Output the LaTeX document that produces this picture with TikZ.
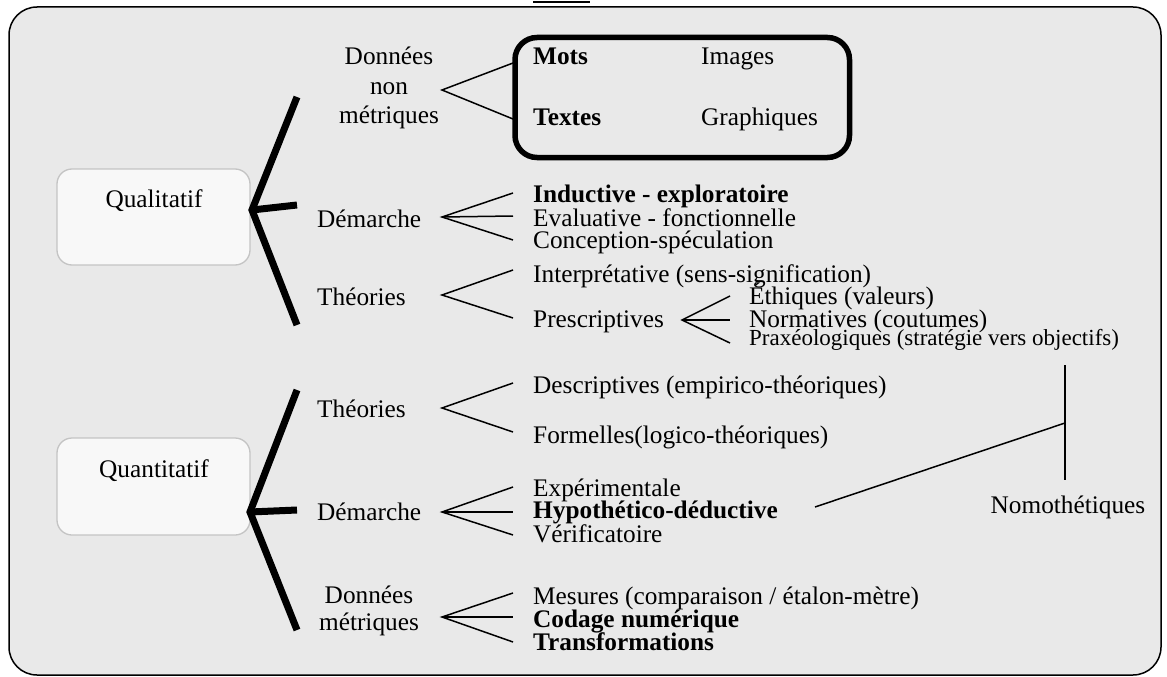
\documentclass[tikz,border=0pt]{standalone}
\usepackage{fontspec}
\setmainfont{Liberation Serif}
\definecolor{bggray}{HTML}{E9E9E9}
\definecolor{boxfill}{HTML}{F8F8F8}
\definecolor{boxgray}{HTML}{C4C4C4}
\begin{document}
\begin{tikzpicture}[x=1pt,y=-1pt,
  txt/.style={font=\fontsize{25.3}{27}\selectfont, inner sep=0pt, anchor=base west},
  ctxt/.style={font=\fontsize{25.3}{27}\selectfont, inner sep=0pt, anchor=base},
  btxt/.style={font=\fontsize{25.3}{27}\selectfont\bfseries, inner sep=0pt, anchor=base west},
  stxt/.style={font=\fontsize{23}{25}\selectfont, inner sep=0pt, anchor=base west},
  brace/.style={line width=7pt},
  fork/.style={line width=1.5pt},
  catbox/.style={draw=boxgray, fill=boxfill, line width=1.3pt, rounded corners=15pt, minimum width=193pt, inner sep=0pt}
]
\useasboundingbox (0,0) rectangle (1167,677);
% outer frame
\draw[fill=bggray, line width=1.5pt, rounded corners=28pt] (9,7) rectangle (1161,675);
\coordinate (frA) at (533,2); \coordinate (frB) at (590,2);
\draw[line width=1.2pt] (frA) -- (frB);

% category boxes
\node[catbox, minimum height=96pt] (qualbox) at (153.5,217) {};
\node[ctxt] (qualtxt) at (154,207) {Qualitatif};
\node[catbox, minimum height=97pt] (quantbox) at (153.5,486.5) {};
\node[ctxt] (quanttxt) at (154,477) {Quantitatif};

% braces
\coordinate (qv) at (252,210);
\coordinate (qt) at (297,97); \coordinate (qm) at (297,205); \coordinate (qb) at (297,325);
\draw[brace] (qt) -- (qv) -- (qb);
\draw[brace] (qv) -- (qm);
\coordinate (nv) at (250,512);
\coordinate (nt) at (297,390); \coordinate (nm) at (297,510); \coordinate (nb) at (297,630);
\draw[brace] (nt) -- (nv) -- (nb);
\draw[brace] (nv) -- (nm);

% ---------------- Qualitatif branches
\node[ctxt] (dq1) at (389,65) {Données};
\node[ctxt] (dq2) at (389,94) {non};
\node[ctxt] (dq3) at (389,123) {métriques};
\node[draw, line width=5.5pt, rounded corners=22pt, minimum width=334.5pt, minimum height=120pt, inner sep=0pt] (imgbox) at (682.25,97.5) {};
\node[btxt] (mots) at (533,65) {Mots};
\node[txt] (images) at (701,65) {Images};
\node[btxt] (textes) at (533,125) {Textes};
\node[txt] (graph) at (701,125) {Graphiques};
\coordinate (fa1) at (442,90);
\coordinate (fa1a) at (513,63); \coordinate (fa1b) at (513,119);
\draw[fork] (fa1a) -- (fa1) -- (fa1b);

\node[txt] (demq) at (317,227) {Démarche};
\coordinate (fa2) at (442,217);
\coordinate (fa2a) at (513,193); \coordinate (fa2b) at (513,216); \coordinate (fa2c) at (513,240);
\draw[fork] (fa2a) -- (fa2) -- (fa2c); \draw[fork] (fa2) -- (fa2b);
\node[btxt] (induc) at (533,202) {Inductive - exploratoire};
\node[txt] (evalu) at (533,226) {Evaluative - fonctionnelle};
\node[txt] (conce) at (533,248) {Conception-spéculation};

\node[txt] (theoq) at (317,305) {Théories};
\coordinate (fa3) at (442,295);
\coordinate (fa3a) at (513,270); \coordinate (fa3b) at (513,318);
\draw[fork] (fa3a) -- (fa3) -- (fa3b);
\node[txt] (inter) at (533,282) {Interprétative (sens-signification)};
\node[txt] (presc) at (533,327) {Prescriptives};
\coordinate (fa4) at (682,320);
\coordinate (fa4a) at (730,296); \coordinate (fa4b) at (730,320); \coordinate (fa4c) at (730,343);
\draw[fork] (fa4a) -- (fa4) -- (fa4c); \draw[fork] (fa4) -- (fa4b);
\node[txt] (ethiq) at (749,304) {Éthiques (valeurs)};
\node[txt] (norma) at (749,327) {Normatives (coutumes)};
\node[stxt] (praxe) at (749,345) {Praxéologiques (stratégie vers objectifs)};

% ---------------- Quantitatif branches
\node[txt] (theon) at (317,417) {Théories};
\coordinate (fb1) at (442,408);
\coordinate (fb1a) at (513,383); \coordinate (fb1b) at (513,432);
\draw[fork] (fb1a) -- (fb1) -- (fb1b);
\node[txt] (descr) at (533,393) {Descriptives (empirico-théoriques)};
\node[txt] (forme) at (533,443) {Formelles(logico-théoriques)};

\node[txt] (demn) at (317,520) {Démarche};
\coordinate (fb2) at (442,512);
\coordinate (fb2a) at (513,487); \coordinate (fb2b) at (513,512); \coordinate (fb2c) at (513,535);
\draw[fork] (fb2a) -- (fb2) -- (fb2c); \draw[fork] (fb2) -- (fb2b);
\node[txt] (exper) at (533,496) {Expérimentale};
\node[btxt] (hypot) at (533,518) {Hypothético-déductive};
\node[txt] (verif) at (533,542) {Vérificatoire};

\node[ctxt] (dn1) at (369,603) {Données};
\node[ctxt] (dn2) at (369,630) {métriques};
\coordinate (fb3) at (442,617);
\coordinate (fb3a) at (513,593); \coordinate (fb3b) at (513,617); \coordinate (fb3c) at (513,642);
\draw[fork] (fb3a) -- (fb3) -- (fb3c); \draw[fork] (fb3) -- (fb3b);
\node[txt] (mesur) at (533,604) {Mesures (comparaison / étalon-mètre)};
\node[btxt] (codag) at (533,627) {Codage numérique};
\node[btxt] (trans) at (533,650) {Transformations};

% Nomothetiques
\node[ctxt] (nomo) at (1068,513) {Nomothétiques};
\coordinate (vt) at (1065,365); \coordinate (vm) at (1065,423); \coordinate (vb) at (1065,480);
\coordinate (hs) at (815,507);
\draw[fork] (vt) -- (vb);
\draw[fork] (hs) -- (vm);
\end{tikzpicture}
\end{document}
